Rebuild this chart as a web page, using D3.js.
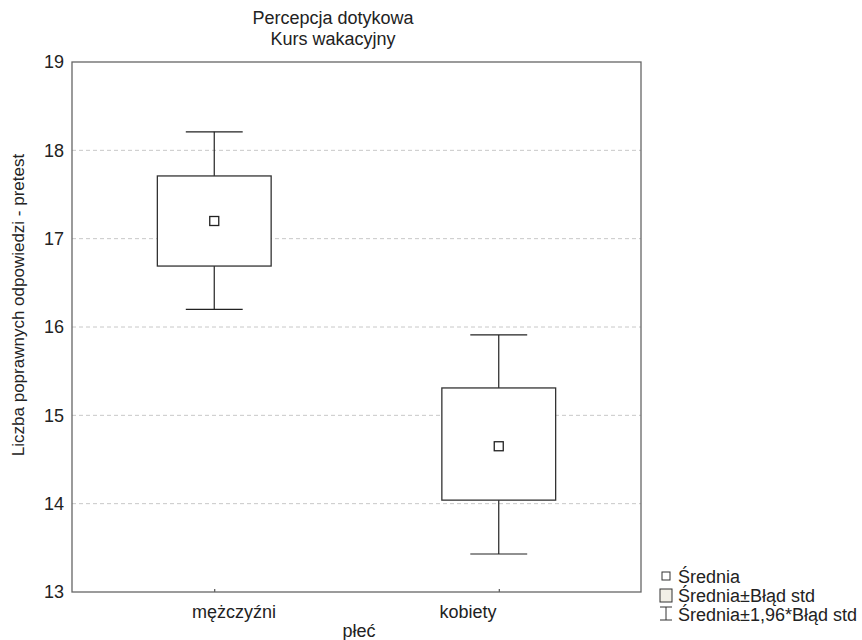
<!DOCTYPE html>
<html>
<head>
<meta charset="utf-8">
<script src="https://cdn.jsdelivr.net/npm/d3@7"></script>
<style>
  body { margin: 0; background: #fff; }
  text { font-family: "Liberation Sans", Arial, sans-serif; fill: #222; }
</style>
</head>
<body>
<svg id="chart"></svg>
<script>
// groups and summary statistics
const categories = ["mężczyźni", "kobiety"];
const means = [17.2, 14.65];
const seLow = [16.69, 14.04];
const seHigh = [17.71, 15.31];
const ciLow = [16.2, 13.43];
const ciHigh = [18.21, 15.91];
const yTicks = [13, 14, 15, 16, 17, 18, 19];
const titleLines = ["Percepcja dotykowa", "Kurs wakacyjny"];
const legendItems = ["Średnia", "Średnia±Błąd std", "Średnia±1,96*Błąd std"];

const width = 862, height = 640;
const margin = { top: 62, right: 221, bottom: 48, left: 72 };

const svg = d3.select("#chart").attr("width", width).attr("height", height);

const x = d3.scalePoint().domain(categories)
  .range([margin.left, width - margin.right]).padding(0.5);
const y = d3.scaleLinear().domain([13, 19])
  .range([height - margin.bottom, margin.top]);
const labelX = d3.scalePoint().domain(categories).range([234, 468]);

const step = x.step();
const boxW = step * 0.4;
const capW = boxW / 2;

// gridlines
svg.append("g").selectAll("line")
  .data(yTicks.filter(t => t > 13 && t < 19))
  .join("line")
  .attr("x1", margin.left).attr("x2", width - margin.right)
  .attr("y1", d => y(d)).attr("y2", d => y(d))
  .attr("stroke", "#c8c8c8").attr("stroke-dasharray", "4,3");

// y axis
const yAxis = svg.append("g")
  .attr("transform", `translate(${margin.left},0)`)
  .call(d3.axisLeft(y).tickValues(yTicks).tickFormat(d3.format("d"))
    .tickSize(0).tickPadding(8));
yAxis.select(".domain").remove();
yAxis.selectAll("text").style("font-size", "18px")
  .style("font-family", "Liberation Sans, Arial, sans-serif").attr("fill", "#222");

// x axis (ticks inside)
const xAxis = svg.append("g")
  .attr("transform", `translate(0,${height - margin.bottom})`)
  .call(d3.axisBottom(x).tickSize(-3).tickFormat(""));
xAxis.select(".domain").remove();
xAxis.selectAll("line").attr("stroke", "#333");

svg.append("g").selectAll("text")
  .data(categories)
  .join("text")
  .attr("x", d => labelX(d))
  .attr("y", 618)
  .attr("text-anchor", "middle")
  .style("font-size", "18px")
  .text(d => d);

svg.append("text")
  .attr("x", 359).attr("y", 637)
  .attr("text-anchor", "middle")
  .style("font-size", "18px")
  .text("płeć");

svg.append("text")
  .attr("transform", `translate(24,${305}) rotate(-90)`)
  .attr("text-anchor", "middle")
  .style("font-size", "17px")
  .text("Liczba poprawnych odpowiedzi - pretest");

// title
svg.append("g").selectAll("text")
  .data(titleLines)
  .join("text")
  .attr("x", 333)
  .attr("y", (d, i) => 24 + i * 21)
  .attr("text-anchor", "middle")
  .style("font-size", "18px")
  .text(d => d);

// boxes
const groups = svg.append("g").selectAll("g")
  .data(categories)
  .join("g");

groups.append("line")
  .attr("x1", d => x(d)).attr("x2", d => x(d))
  .attr("y1", (d, i) => y(ciHigh[i])).attr("y2", (d, i) => y(ciLow[i]))
  .attr("stroke", "#222").attr("stroke-width", 1.2);
groups.append("line")
  .attr("x1", d => x(d) - capW / 2).attr("x2", d => x(d) + capW / 2)
  .attr("y1", (d, i) => y(ciHigh[i])).attr("y2", (d, i) => y(ciHigh[i]))
  .attr("stroke", "#222").attr("stroke-width", 1.2);
groups.append("line")
  .attr("x1", d => x(d) - capW / 2).attr("x2", d => x(d) + capW / 2)
  .attr("y1", (d, i) => y(ciLow[i])).attr("y2", (d, i) => y(ciLow[i]))
  .attr("stroke", "#222").attr("stroke-width", 1.2);
groups.append("rect")
  .attr("x", d => x(d) - boxW / 2).attr("width", boxW)
  .attr("y", (d, i) => y(seHigh[i]))
  .attr("height", (d, i) => y(seLow[i]) - y(seHigh[i]))
  .attr("fill", "#fff").attr("stroke", "#333").attr("stroke-width", 1.3);
groups.append("rect")
  .attr("x", d => x(d) - 4.5).attr("width", 9)
  .attr("y", (d, i) => y(means[i]) - 4.5).attr("height", 9)
  .attr("fill", "#fff").attr("stroke", "#222").attr("stroke-width", 1.3);

// frame
svg.append("rect")
  .attr("x", margin.left).attr("y", margin.top)
  .attr("width", width - margin.left - margin.right)
  .attr("height", height - margin.top - margin.bottom)
  .attr("fill", "none").attr("stroke", "#666").attr("stroke-width", 1.3);

// legend
const lg = svg.append("g").attr("transform", "translate(660,0)");
lg.append("rect").attr("x", 2).attr("y", 572).attr("width", 8).attr("height", 8)
  .attr("fill", "#fff").attr("stroke", "#333");
lg.append("rect").attr("x", 0).attr("y", 589).attr("width", 12).attr("height", 13)
  .attr("fill", "#f2efe6").attr("stroke", "#333");
lg.append("path").attr("d", "M0,607H12M6,607V620M0,620H12")
  .attr("fill", "none").attr("stroke", "#333");
lg.selectAll("text.item")
  .data(legendItems)
  .join("text")
  .attr("class", "item")
  .attr("x", 18)
  .attr("y", (d, i) => 583 + i * 19)
  .style("font-size", "18px")
  .text(d => d);
</script>
</body>
</html>
